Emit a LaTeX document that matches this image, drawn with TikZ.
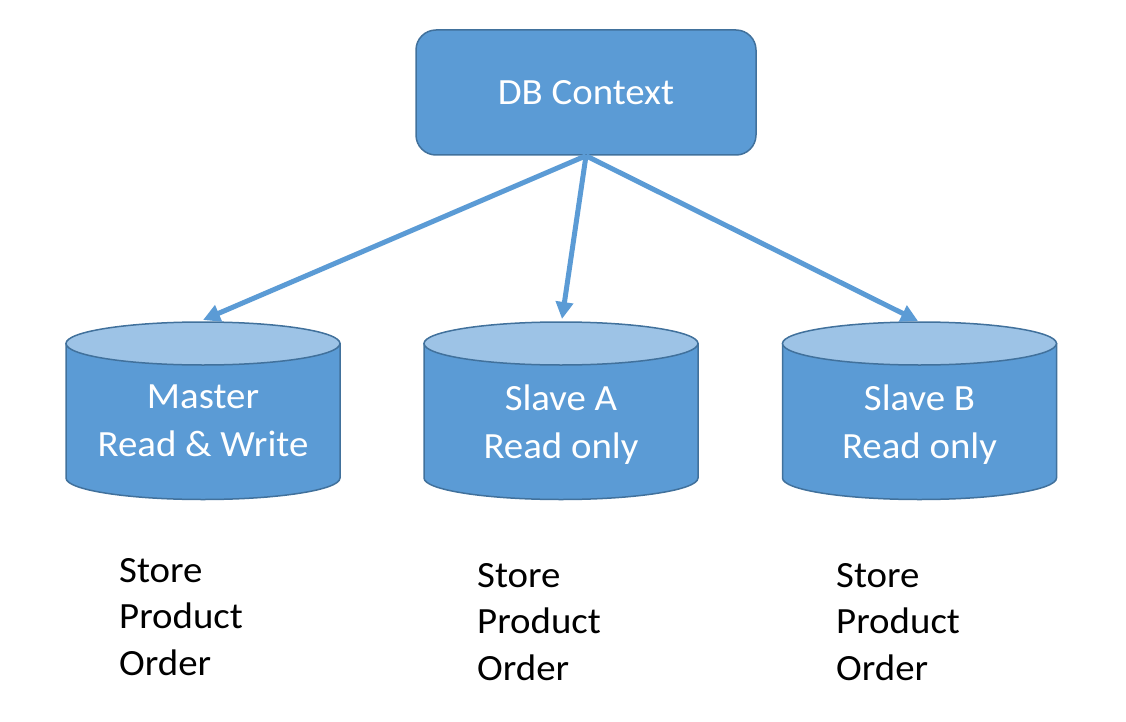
\documentclass[tikz,border=0pt]{standalone}
\usepackage{fontspec}
\usepackage{tikz}
\newfontfamily\calib[FakeStretch=1.05]{Carlito}
\usetikzlibrary{arrows.meta}
\definecolor{dbfill}{HTML}{5B9BD5}
\definecolor{dbtop}{HTML}{9DC3E6}
\definecolor{dbedge}{HTML}{41719C}

\begin{document}
\begin{tikzpicture}[x=1pt,y=-1pt,
    ctxbox/.style={draw=dbedge, line width=1.5pt, fill=dbfill, rounded corners=20pt,
      minimum width=340pt, minimum height=125pt, text=white,
      font=\calib\fontsize{37}{48}\selectfont},
    dblabel/.style={align=center, inner sep=0pt, anchor=north, text=white,
      font=\calib\fontsize{37}{48}\selectfont},
    tables/.style={align=left, inner sep=0pt, anchor=north west,
      font=\calib\fontsize{37}{46.5}\selectfont},
    link/.style={-{Triangle[length=17pt,width=17pt]}, draw=dbfill, line width=5pt}]
  \useasboundingbox (0,0) rectangle (1126,722);
  % context box
  \node[ctxbox] (ctx) at (586,92.5) {DB Context};
  % databases
  \foreach \cx/\db/\txt in {203/master/{Master\\Read \& Write},
      561/slavea/{Slave A\\Read only}, 919.5/slaveb/{Slave B\\Read only}} {
    \filldraw[draw=dbedge, line width=1.5pt, fill=dbfill]
      (\cx-137,343.5) -- (\cx-137,478)
      arc[start angle=180, end angle=0, x radius=137, y radius=21.5]
      -- (\cx+137,343.5) -- cycle;
    \filldraw[draw=dbedge, line width=1.5pt, fill=dbtop]
      (\cx,343.5) ellipse[x radius=137, y radius=21.5];
    \node[dblabel] (\db) at (\cx,385) {\txt};
  }
  \coordinate (master-top) at (203,320);
  \coordinate (slavea-top) at (562,319);
  \coordinate (slaveb-top) at (918,321);
  % arrows
  \draw[link] (ctx.south) -- (master-top);
  \draw[link] (ctx.south) -- (slavea-top);
  \draw[link] (ctx.south) -- (slaveb-top);
  % tables
  \node[tables] (mastertbl) at (119,558) {Store\\Product\\Order};
  \node[tables] (slaveatbl) at (477,563) {Store\\Product\\Order};
  \node[tables] (slavebtbl) at (836,563) {Store\\Product\\Order};
\end{tikzpicture}
\end{document}
